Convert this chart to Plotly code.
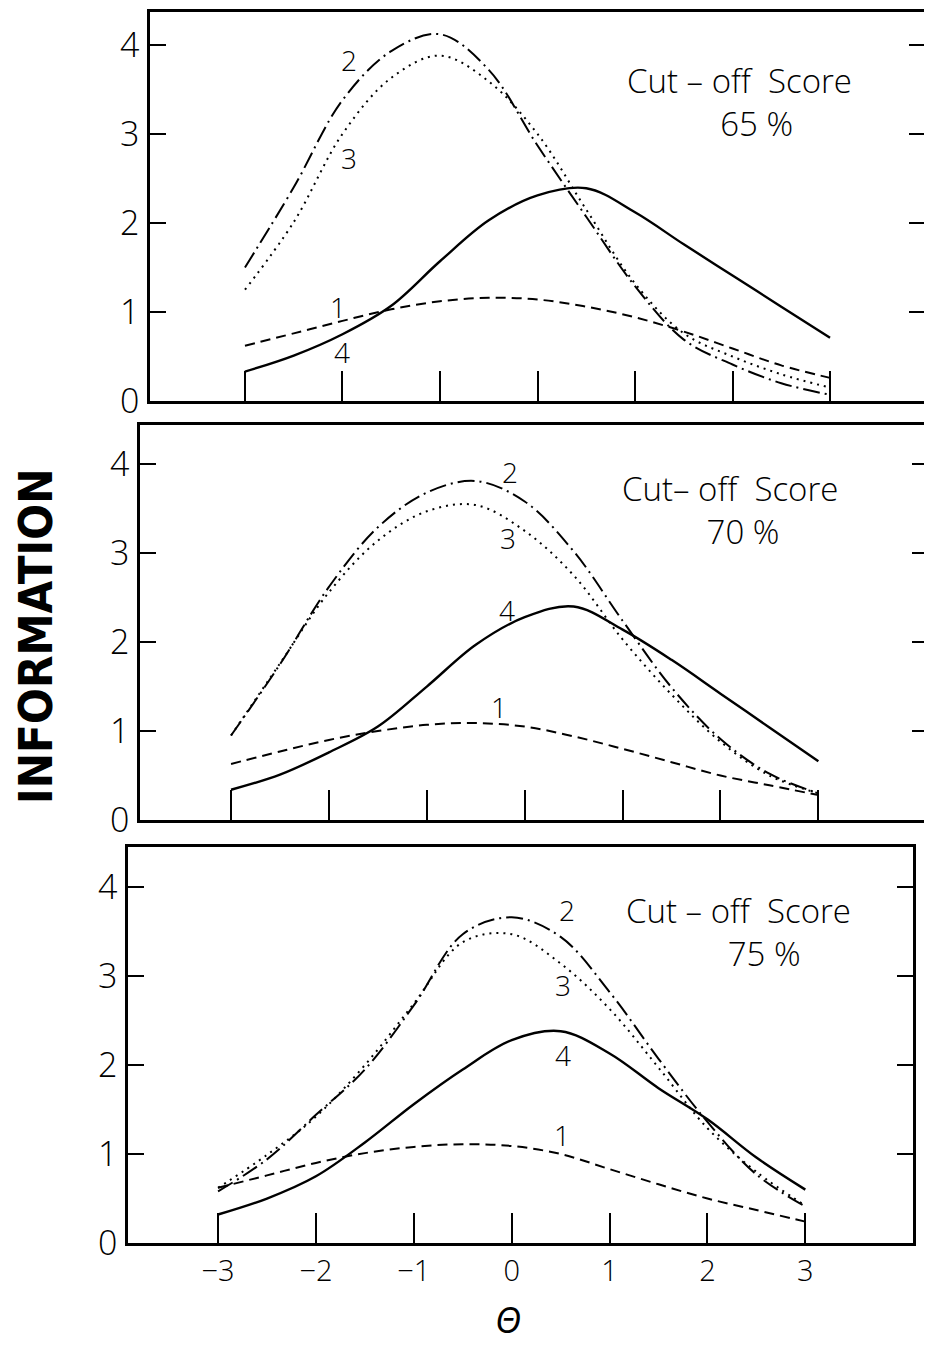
import plotly.graph_objects as go

theta = [-3, -2.5, -2, -1.5, -1, -0.5, 0, 0.5, 1, 1.5, 2, 2.5, 3]

# Cut-off 65 %
p65_c1 = [0.62, 0.76, 0.90, 1.03, 1.12, 1.16, 1.14, 1.06, 0.94, 0.78, 0.59, 0.40, 0.26]
p65_c2 = [1.50, 2.40, 3.38, 3.93, 4.12, 3.72, 2.87, 2.07, 1.29, 0.69, 0.41, 0.20, 0.07]
p65_c3 = [1.25, 2.01, 3.00, 3.63, 3.88, 3.59, 3.00, 2.15, 1.32, 0.76, 0.50, 0.30, 0.15]
p65_c4 = [0.33, 0.51, 0.75, 1.07, 1.57, 2.03, 2.31, 2.39, 2.12, 1.76, 1.41, 1.06, 0.71]

# Cut-off 70 %
p70_c1 = [0.63, 0.77, 0.90, 1.00, 1.07, 1.09, 1.05, 0.94, 0.80, 0.65, 0.50, 0.39, 0.28]
p70_c2 = [0.95, 1.75, 2.62, 3.29, 3.68, 3.81, 3.58, 3.02, 2.24, 1.49, 0.91, 0.52, 0.30]
p70_c3 = [0.95, 1.76, 2.56, 3.14, 3.47, 3.54, 3.25, 2.75, 2.03, 1.41, 0.88, 0.50, 0.30]
p70_c4 = [0.34, 0.51, 0.76, 1.05, 1.50, 1.97, 2.28, 2.40, 2.14, 1.80, 1.42, 1.04, 0.66]

# Cut-off 75 %
p75_c1 = [0.62, 0.76, 0.90, 1.01, 1.08, 1.11, 1.09, 1.00, 0.83, 0.66, 0.50, 0.37, 0.24]
p75_c2 = [0.58, 0.94, 1.44, 1.95, 2.67, 3.47, 3.66, 3.44, 2.82, 2.07, 1.36, 0.77, 0.41]
p75_c3 = [0.62, 0.99, 1.42, 2.00, 2.69, 3.38, 3.47, 3.14, 2.63, 1.97, 1.29, 0.80, 0.42]
p75_c4 = [0.32, 0.50, 0.75, 1.13, 1.56, 1.95, 2.28, 2.38, 2.13, 1.74, 1.39, 0.96, 0.60]

NB = "\u00a0"
panel_titles = [
    f"Cut{NB}–{NB}off{NB * 2}Score<br>{NB * 4}65{NB}%",
    f"Cut–{NB}off{NB * 2}Score<br>{NB * 3}70{NB}%",
    f"Cut{NB}–{NB}off{NB * 2}Score<br>{NB * 6}75{NB}%",
]
curve_labels = ["1", "2", "3", "4"]
y_tick_vals = [0, 1, 2, 3, 4]
x_tick_vals = [-3, -2, -1, 0, 1, 2, 3]

panels = [
    [p65_c1, p65_c2, p65_c3, p65_c4],
    [p70_c1, p70_c2, p70_c3, p70_c4],
    [p75_c1, p75_c2, p75_c3, p75_c4],
]

# label positions (theta, info) per panel, curve order 1..4
label_pos = [
    [(-2.05, 1.06), (-1.93, 3.83), (-1.93, 2.73), (-2.0, 0.55)],
    [(-0.26, 1.27), (-0.15, 3.91), (-0.17, 3.17), (-0.18, 2.36)],
    [(0.51, 1.21), (0.56, 3.74), (0.52, 2.90), (0.52, 2.11)],
]
title_pos = [(2.07, 3.36), (2.10, 3.48), (2.32, 3.50)]

dash_styles = ["10px,6px", "17px,5px,2px,5px", "2px,5px", "solid"]

W, H = 932, 1347
OFF = 8  # page offset of the figure inside the browser window
frames = [  # left, right, top, bottom in window pixels
    (150, 925, 12, 401),
    (140, 928, 425, 820),
    (128, 913, 847, 1243),
]
x_ranges = [[-3.974, 3.974], [-3.93, 4.12], [-3.92, 4.10]]
y_ranges = [[0, 4.37], [0, 4.44], [0, 4.45]]

fig = go.Figure()
thin = dict(family="Open Sans, Liberation Sans, sans-serif", color="black", weight=300)

for i, series in enumerate(panels):
    xa = "x" if i == 0 else f"x{i+1}"
    ya = "y" if i == 0 else f"y{i+1}"
    for j, vals in enumerate(series):
        fig.add_trace(go.Scatter(
            x=theta, y=vals, mode="lines", xaxis=xa, yaxis=ya,
            line=dict(color="black", width=2.4 if j == 3 else 2,
                      dash=dash_styles[j], shape="spline", smoothing=1.0),
            showlegend=False, hoverinfo="skip"))
        lx, ly = label_pos[i][j]
        fig.add_annotation(x=lx, y=ly, xref=xa, yref=ya, text=curve_labels[j],
                           xanchor="center", yanchor="middle",
                           showarrow=False, font=dict(size=28, **thin))
    tx, ty = title_pos[i]
    fig.add_annotation(x=tx, y=ty, xref=xa, yref=ya, text=panel_titles[i],
                       xanchor="center", yanchor="middle", align="center",
                       showarrow=False, font=dict(size=33, **thin))

    l, r, t, b = frames[i]
    key = "" if i == 0 else str(i + 1)
    fig.layout["xaxis" + key] = dict(
        domain=[(l - OFF) / W, (r - OFF) / W], range=x_ranges[i], anchor=ya, automargin=False,
        tickvals=x_tick_vals, ticks="inside", ticklen=30, tickwidth=2, tickcolor="black",
        showticklabels=(i == 2), ticklabelstandoff=0,
        tickfont=dict(size=29, **thin),
        showline=True, linecolor="black", linewidth=2.5, mirror=True,
        showgrid=False, zeroline=False)
    fig.layout["yaxis" + key] = dict(
        domain=[1 - (b - OFF) / H, 1 - (t - OFF) / H], range=y_ranges[i], anchor=xa,
        automargin=False,
        tickvals=y_tick_vals, ticks="inside", ticklen=16, tickwidth=2, tickcolor="black",
        tickfont=dict(size=34, **thin), ticklabelstandoff=1,
        showline=True, linecolor="black", linewidth=2.5, mirror="ticks",
        showgrid=False, zeroline=False)

fig.add_annotation(x=(35 - OFF) / W, y=1 - (636 - OFF) / H, xref="paper", yref="paper",
                   xanchor="center", yanchor="middle",
                   text="<b>INFORMATION</b>", textangle=-90, showarrow=False,
                   font=dict(size=47, color="black",
                             family="DejaVu Sans Condensed, Liberation Sans, sans-serif"))
fig.add_annotation(x=(508 - OFF) / W, y=1 - (1346 - OFF) / H, xref="paper", yref="paper",
                   xanchor="center", yanchor="bottom",
                   text="<i>Θ</i>", showarrow=False,
                   font=dict(size=36, family="Open Sans, Liberation Sans, sans-serif",
                             color="black", weight=400))

fig.update_layout(width=W, height=H,
                  margin=dict(l=0, r=0, t=0, b=0, autoexpand=False),
                  paper_bgcolor="white", plot_bgcolor="white", showlegend=False)

fig.write_html("out.html")
